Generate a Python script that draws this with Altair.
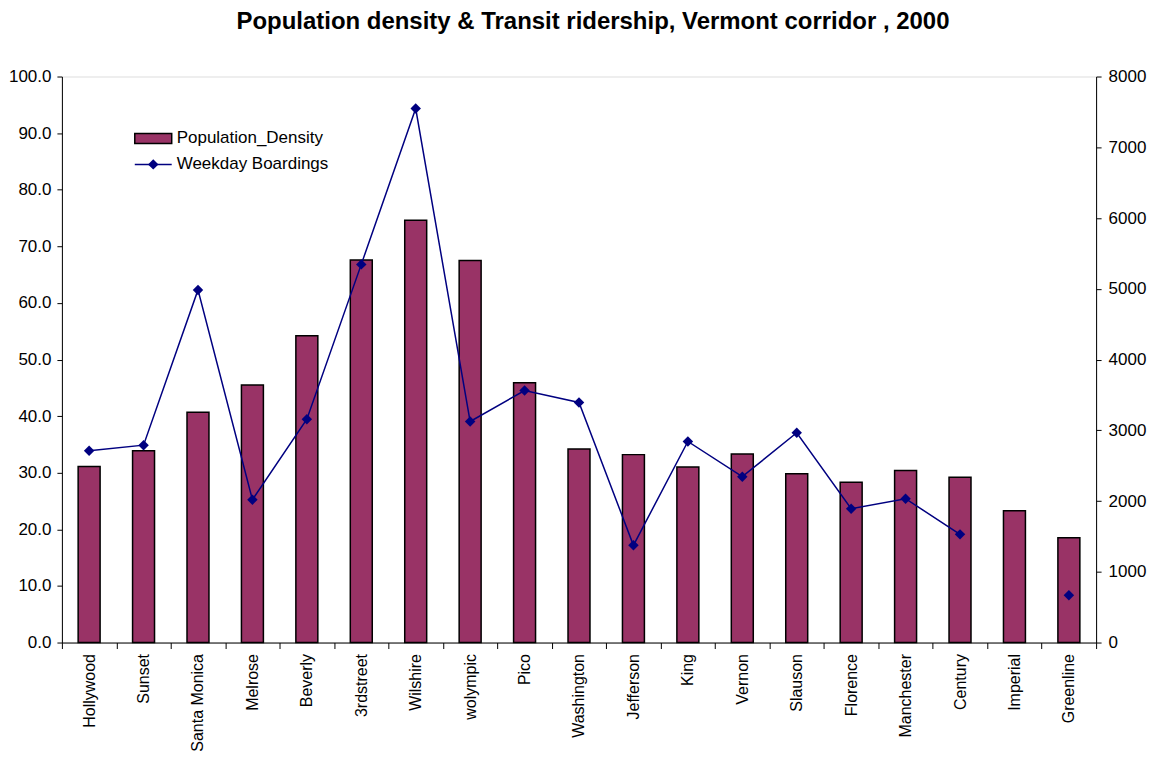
import altair as alt
import pandas as pd

stations = ["Hollywood", "Sunset", "Santa Monica", "Melrose", "Beverly", "3rdstreet",
            "Wilshire", "wolympic", "Pico", "Washington", "Jefferson", "King", "Vernon",
            "Slauson", "Florence", "Manchester", "Century", "Imperial", "Greenline"]
population_density = [31.1, 33.9, 40.7, 45.5, 54.2, 67.6, 74.6, 67.5, 45.9, 34.2,
                      33.2, 31.0, 33.3, 29.8, 28.3, 30.4, 29.2, 23.3, 18.5]
weekday_boardings = [2711, 2790, 4984, 2019, 3157, 5345, 7548, 3124, 3562, 3393,
                     1374, 2842, 2344, 2965, 1892, 2033, 1529, None, 668]
left_ticks = [0, 10, 20, 30, 40, 50, 60, 70, 80, 90, 100]
right_ticks = [0, 1000, 2000, 3000, 4000, 5000, 6000, 7000, 8000]
legend_labels = ["Population_Density", "Weekday Boardings"]
title_text = "Population density & Transit ridership, Vermont corridor , 2000"

FONT = "Liberation Sans"
BAR = "#993366"
LINE = "#000080"

# segment id: a missing value breaks the line
seg, s = [], 0
for v in weekday_boardings:
    if v is None:
        s += 1
    seg.append(s)

df = pd.DataFrame({"station": stations, "density": population_density,
                   "boardings": weekday_boardings, "segment": seg})
line_df = df[df["boardings"].notna()].copy()

xscale = alt.Scale(domain=stations, paddingInner=0, paddingOuter=0)
xaxis = alt.Axis(title=None, labelAngle=-90, tickBand="extent", tickSize=6,
                 labelPadding=5, labelFontSize=16, labelFont=FONT, labelColor="black",
                 domainColor="black", tickColor="black", grid=False, labelLimit=300)

bars = alt.Chart(df).mark_bar(size=22, fill=BAR, stroke="black", strokeWidth=1.5).encode(
    x=alt.X("station:N", sort=stations, scale=xscale, axis=xaxis),
    y=alt.Y("density:Q", scale=alt.Scale(domain=[0, 100], nice=False),
            axis=alt.Axis(orient="left", title=None, values=left_ticks, format=".1f",
                          tickSize=5, labelPadding=6, labelFontSize=17, labelFont=FONT,
                          labelColor="black", domainColor="black", tickColor="black",
                          grid=False)),
)

line = alt.Chart(line_df).mark_line(
    color=LINE, strokeWidth=1.5,
    point=alt.OverlayMarkDef(shape="diamond", filled=True, size=110, color=LINE, opacity=1),
).encode(
    x=alt.X("station:N", sort=stations, scale=xscale, axis=xaxis),
    y=alt.Y("boardings:Q", scale=alt.Scale(domain=[0, 8000], nice=False),
            axis=alt.Axis(orient="right", title=None, values=right_ticks, format="d",
                          tickSize=5, labelPadding=7, labelFontSize=17, labelFont=FONT,
                          labelColor="black", domainColor="black", tickColor="black",
                          grid=False)),
    detail="segment:N",
)

leg_df = pd.DataFrame({"label": legend_labels})
leg_rect = alt.Chart(leg_df.iloc[[0]]).mark_rect(fill=BAR, stroke="black", strokeWidth=1.5).encode(
    x=alt.value(73), x2=alt.value(110), y=alt.value(57), y2=alt.value(67))
leg_rule = alt.Chart(leg_df.iloc[[1]]).mark_rule(color=LINE, strokeWidth=1.5).encode(
    x=alt.value(73), x2=alt.value(110), y=alt.value(88))
leg_pt = alt.Chart(leg_df.iloc[[1]]).mark_point(shape="diamond", filled=True, size=110,
                                                color=LINE, opacity=1).encode(
    x=alt.value(91.5), y=alt.value(88))
leg_t1 = alt.Chart(leg_df.iloc[[0]]).mark_text(align="left", baseline="middle", fontSize=17,
                                               font=FONT, color="black").encode(
    x=alt.value(115), y=alt.value(62), text="label:N")
leg_t2 = alt.Chart(leg_df.iloc[[1]]).mark_text(align="left", baseline="middle", fontSize=17,
                                               font=FONT, color="black").encode(
    x=alt.value(115), y=alt.value(88), text="label:N")

chart = alt.layer(bars, line, leg_rect, leg_rule, leg_pt, leg_t1, leg_t2).resolve_scale(
    y="independent"
).properties(
    width=1036, height=567,
    autosize=alt.AutoSizeParams(type="none"),
    padding={"left": 54, "top": 68, "right": 55, "bottom": 109},
    title=alt.TitleParams(title_text, fontSize=24, fontWeight="bold", font=FONT,
                          color="black", anchor="middle", baseline="alphabetic", offset=15,
                          dx=14),
).configure_view(stroke="#808080", strokeWidth=1).configure(background="white")

chart.save("out.html", embed_options={"renderer": "svg", "actions": False})
